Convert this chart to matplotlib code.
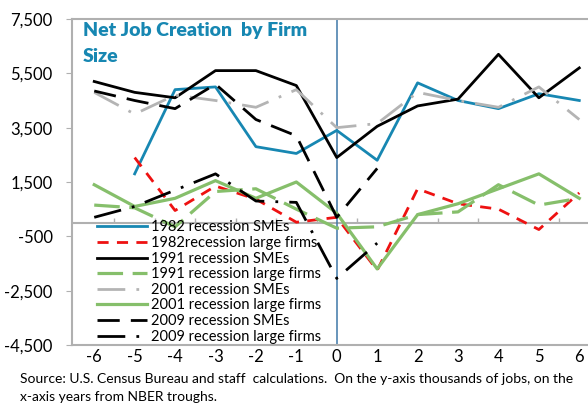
import numpy as np
import matplotlib.pyplot as plt

plt.rcParams['font.family'] = ['Lato', 'DejaVu Sans']

years = list(range(-6, 7))
nan = np.nan

# thousands of jobs
sme_1982 = [nan, 1800, 4900, 5000, 2800, 2550, 3400, 2300, 5150, 4500, 4200, 4750, 4500]
large_1982 = [nan, 2400, 450, 1350, 870, 20, 200, -1750, 1250, 700, 500, -250, 1100]
sme_1991 = [5200, 4800, 4600, 5600, 5600, 5050, 2400, 3550, 4300, 4550, 6200, 4600, 5700]
large_1991 = [650, 550, -150, 1150, 1250, 500, -200, -150, 300, 400, 1400, 650, 900]
sme_2001 = [4800, 4000, 4700, 4500, 4250, 4900, 3500, 3650, 4800, 4500, 4250, 5000, 3800]
large_2001 = [1400, 600, 900, 1550, 900, 1500, 350, -1700, 300, 700, 1250, 1800, 900]
sme_2009 = [4850, 4500, 4200, 5100, 3800, 3200, 200, 2000, nan, nan, nan, nan, nan]
large_2009 = [200, 600, 1200, 1800, 800, 750, -2050, -750, nan, nan, nan, nan, nan]

yticks = [-4500, -2500, -500, 1500, 3500, 5500, 7500]
ytick_labels = ['-4,500', '-2,500', '-500', '1,500', '3,500', '5,500', '7,500']

blue = '#1787b2'
red = '#ee1111'
green = '#86bf6b'
grey = '#b4b4b4'

fig = plt.figure(figsize=(5.88, 4.15), dpi=100)
ax = fig.add_axes([72 / 588, 1 - 345 / 415, 527.5 / 588, 326 / 415])

lw = 2.0
ax.plot(years, sme_1982, color=blue, lw=lw, label='1982 recession SMEs')
ax.plot(years, large_1982, color=red, lw=lw, ls=(0, (4, 3)), label='1982recession large firms')
ax.plot(years, sme_1991, color='black', lw=lw, label='1991 recession SMEs')
ax.plot(years, large_1991, color=green, lw=lw + 0.3, ls=(0, (8, 3)), label='1991 recession large firms')
ax.plot(years, sme_2001, color=grey, lw=lw, ls=(0, (10, 4, 1, 4)), label='2001 recession SMEs')
ax.plot(years, large_2001, color=green, lw=lw + 0.3, label='2001 recession large firms')
ax.plot(years, sme_2009, color='black', lw=lw, ls=(0, (8, 4)), label='2009 recession SMEs')
ax.plot(years, large_2009, color='black', lw=lw, ls=(0, (10, 4, 1, 4)), label='2009 recession large firms')

# zero line with small category ticks, and trough marker
ax.axhline(0, color='#b0b0b0', lw=1.5, zorder=1)
ax.vlines(np.arange(-5.5, 6.5, 1), 0, 170, color='#b0b0b0', lw=1, zorder=1)
ax.axvline(0, color='#3f78a8', lw=1.1, zorder=1)

ax.set_xlim(-6.55, 6.5)
ax.set_ylim(-4500, 7500)
ax.set_xticks(years)
ax.set_xticklabels([str(v) for v in years])
ax.set_yticks(yticks)
ax.set_yticklabels(ytick_labels)
ax.tick_params(axis='x', length=0, pad=3, labelsize=12)
ax.tick_params(axis='y', length=4, color='#b0b0b0', pad=10, labelsize=12)

for side in ['top', 'left', 'bottom']:
    ax.spines[side].set_color('#b0b0b0')
    ax.spines[side].set_linewidth(1.5)
ax.spines['right'].set_visible(False)

ax.text(0.021, 0.99, 'Net Job Creation  by Firm\nSize', transform=ax.transAxes,
        va='top', ha='left', fontsize=14, fontweight='heavy', color=blue, linespacing=1.6)

ax.legend(loc='upper left', bbox_to_anchor=(0.047, 0.382), frameon=False, fontsize=10.5,
          handlelength=3.45, handletextpad=0.3, labelspacing=0.11, borderpad=0, borderaxespad=0)

fig.text(20 / 588, 1 - 373 / 415,
         'Source: U.S. Census Bureau and staff  calculations.  On the y-axis thousands of jobs, on the\n'
         'x-axis years from NBER troughs.', va='top', ha='left', fontsize=10, linespacing=1.6)

fig.savefig('out.png', dpi=100)
